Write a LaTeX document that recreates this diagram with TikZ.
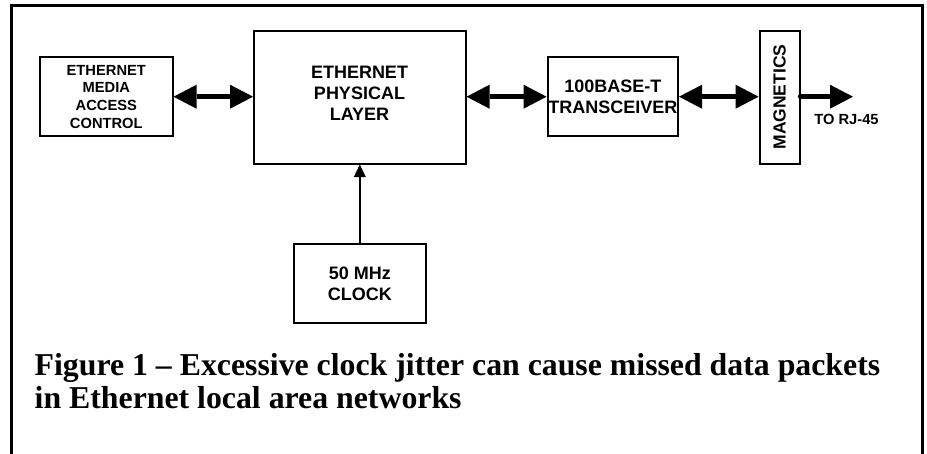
\documentclass[tikz,border=0pt]{standalone}
\usepackage{fontspec}
\setmainfont{Liberation Serif}
\newfontfamily\arialfont{Liberation Sans}
\usetikzlibrary{arrows.meta}
\tikzset{
  blk/.style={draw, line width=2pt, inner sep=0pt, align=center,
    font=\arialfont\bfseries\fontsize{18}{21}\selectfont},
  smalltext/.style={font=\arialfont\bfseries\fontsize{14.7}{17.7}\selectfont},
  bigtip/.tip={Triangle[length=23pt,width=24pt,line width=0pt]},
  bus/.style={line width=5.5pt, {bigtip}-{bigtip}},
  outbus/.style={line width=5.5pt, line cap=round, -{bigtip}},
  clk/.style={line width=2pt, -{Triangle[length=12.5pt,width=12pt,line width=0pt]}},
  frame/.style={line width=3pt},
  captxt/.style={anchor=base west, inner sep=0pt,
    font=\bfseries\fontsize{31.8}{32.6}\selectfont}
}
\begin{document}
\begin{tikzpicture}[x=1pt,y=-1pt]
\useasboundingbox (0,0) rectangle (927,453);
\draw[frame] (11.7,470) -- (11.7,5) -- (922.5,5) -- (922.5,470);

\node[blk, smalltext, minimum width=132.5pt, minimum height=78.7pt] (mac) at (106.3,96.7)
  {ETHERNET\\MEDIA\\ACCESS\\CONTROL};
\node[blk, minimum width=211.5pt, minimum height=133pt] (phy) at (359.8,97) {};
\node[align=center, inner sep=0pt, font=\arialfont\bfseries\fontsize{18}{21}\selectfont]
  (phytext) at (359.5,93.3) {ETHERNET\\PHYSICAL\\LAYER};
\node[blk, minimum width=130.5pt, minimum height=78.7pt] (trx) at (612.8,96.7)
  {100BASE-T\\TRANSCEIVER};
\node[blk, minimum width=40pt, minimum height=133pt, font=\arialfont\bfseries\fontsize{17.5}{21}\selectfont]
  (mag) at (779.6,97) {\rotatebox{90}{MAGNETICS}};
\node[blk, minimum width=132.5pt, minimum height=78.5pt] (clock) at (359.8,283.3)
  {50 MHz\\CLOCK};
\coordinate (rj) at (853,96.7);
\node[smalltext, inner sep=0pt] (rjtext) at (846.5,119) {TO RJ-45};

\draw[bus] (mac.east) -- (phy.west |- mac.east);
\draw[bus] (phy.east |- trx.west) -- (trx.west);
\draw[bus] (trx.east) -- (mag.west |- trx.east);
\draw[outbus] (mag.east |- rj) -- (rj);
\draw[clk] (clock.north) -- (phy.south);

\node[captxt] (cap1) at (34.5,375.7) {Figure 1 – Excessive clock jitter can cause missed data packets};
\node[captxt] (cap2) at (34.5,408.3) {in Ethernet local area networks};
\end{tikzpicture}
\end{document}
